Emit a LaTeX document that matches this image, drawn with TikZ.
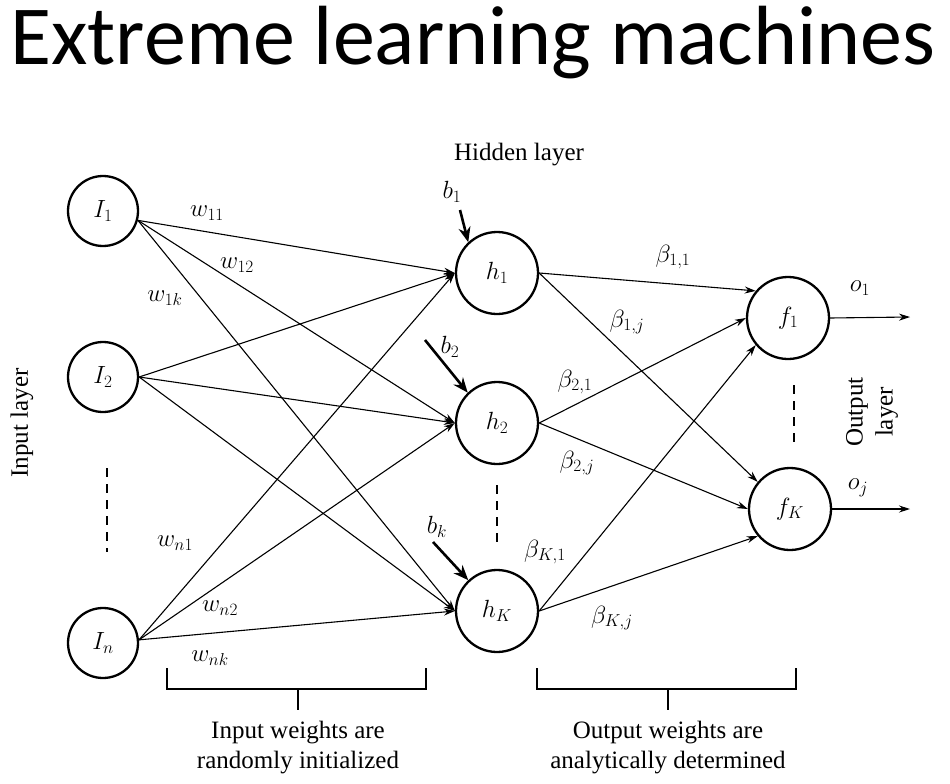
\documentclass[tikz,border=0pt]{standalone}
\usepackage{fontspec}
\setmainfont{Liberation Serif}
\newfontfamily\titlefont{Carlito}
\usepackage{tikz}
\usetikzlibrary{arrows.meta,positioning}
\tikzstyle{neuron} = [circle, draw=black, line width=2.3pt, minimum size=70pt, inner sep=0pt, font=\fontsize{25}{28}\selectfont]
\tikzstyle{bigneuron} = [neuron, minimum size=82pt]
\tikzstyle{conn} = [line width=1.1pt, -{Stealth[length=11pt,width=7pt]}]
\tikzstyle{bias} = [line width=2.6pt, -{Stealth[length=15pt,width=12pt]}]
\tikzstyle{lbl} = [inner sep=0pt, font=\fontsize{25}{28}\selectfont]
\tikzstyle{txt} = [align=center, inner sep=0pt, font=\fontsize{25}{30}\selectfont]
\tikzstyle{dots} = [line width=1.3pt, dash pattern=on 9pt off 7pt]
\tikzstyle{brace} = [line width=1.3pt]

\begin{document}
\begin{tikzpicture}[x=1pt, y=-1pt]
\useasboundingbox (0,0) rectangle (950,784);

% Title
\node[anchor=base west, inner sep=0pt, font=\titlefont\fontsize{84}{90}\selectfont] (title) at (10,65) {Extreme learning machines};

% Input layer
\node[neuron] (i1) at (103,211) {$I_1$};
\node[neuron] (i2) at (103,377) {$I_2$};
\node[neuron] (in) at (103,643) {$I_n$};

% Hidden layer
\node[bigneuron] (h1) at (497,273) {$h_1$};
\node[bigneuron] (h2) at (497,423) {$h_2$};
\node[bigneuron] (hk) at (497,611) {$h_K$};

% Output layer
\node[bigneuron] (f1) at (788,318) {$f_1$};
\node[bigneuron] (fk) at (790,509) {$f_K$};

% Layer names
\node[txt] (hidname) at (519,155) {Hidden layer};
\node[txt, rotate=90] (inname) at (22,423) {Input layer};
\node[txt, rotate=90] (outname) at (872,412) {Output\\layer};

% Input weights
\foreach \i/\a in {i1/-15,i2/0,in/5}
  \foreach \h in {h1,h2,hk}
    \draw[conn] (\i.\a) -- (\h.west);

% Output weights
\foreach \h/\a in {h1/140,h2/180,hk/220} {
  \draw[conn] (\h.east) -- (f1.\a);
  \draw[conn] (\h.east) -- (fk.\a);
}

% Outputs
\coordinate (o1e) at (910,317);
\coordinate (oje) at (910,509);
\draw[conn] (f1.east) -- (o1e);
\draw[conn] (fk.east) -- (oje);
\node[lbl] (o1) at (860,288) {$o_1$};
\node[lbl] (oj) at (858,488) {$o_j$};

% Biases
\coordinate (b1s) at (460,210);
\coordinate (b2s) at (425,340);
\coordinate (bks) at (433,542);
\draw[bias] (b1s) -- (h1.133);
\draw[bias] (b2s) -- (h2.134);
\draw[bias] (bks) -- (hk.133);
\node[lbl] (b1) at (452,192) {$b_1$};
\node[lbl] (b2) at (450,347) {$b_2$};
\node[lbl] (bk) at (437,527) {$b_k$};

% Weight labels
\node[lbl] (w11) at (207,213) {$w_{11}$};
\node[lbl] (w12) at (237,265) {$w_{12}$};
\node[lbl] (w1k) at (165,298) {$w_{1k}$};
\node[lbl] (wn1) at (175,543) {$w_{n1}$};
\node[lbl] (wn2) at (220,608) {$w_{n2}$};
\node[lbl] (wnk) at (210,658) {$w_{nk}$};
\node[lbl] (be11) at (673,257) {$\beta_{1,1}$};
\node[lbl] (be1j) at (627,322) {$\beta_{1,j}$};
\node[lbl] (be21) at (575,382) {$\beta_{2,1}$};
\node[lbl] (be2j) at (577,463) {$\beta_{2,j}$};
\node[lbl] (bek1) at (545,552) {$\beta_{K,1}$};
\node[lbl] (bekj) at (612,618) {$\beta_{K,j}$};

% Dashes
\draw[dots] (107,468) -- (107,552);
\draw[dots] (497,485) -- (497,543);
\draw[dots] (794,385) -- (794,443);

% Brackets
\draw[brace] (167,668) -- (167,689) -- (426,689) -- (426,668);
\draw[brace] (298,689) -- (298,710);
\draw[brace] (537,668) -- (537,689) -- (796,689) -- (796,668);
\draw[brace] (668,689) -- (668,710);
\node[txt] (inw) at (298,748) {Input weights are\\randomly initialized};
\node[txt] (outw) at (668,748) {Output weights are\\analytically determined};
\end{tikzpicture}
\end{document}
